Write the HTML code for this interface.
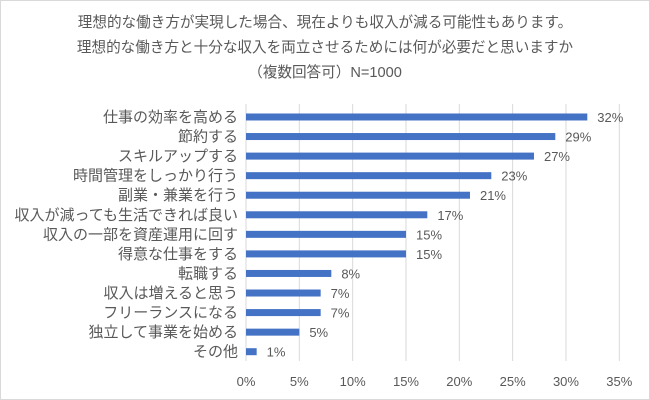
<!DOCTYPE html>
<html><head><meta charset="utf-8"><style>
body{margin:0;background:#fff}
#c{position:relative;width:650px;height:400px;overflow:hidden}
svg text{font-family:"Liberation Sans","Noto Sans CJK JP",sans-serif;fill:#595959}
</style></head><body>
<div id="c">
<svg id="s" width="650" height="400" xmlns="http://www.w3.org/2000/svg">
<rect x="0.5" y="0.5" width="649" height="399" fill="#fff" stroke="#d9d9d9"/>
<text x="325" y="27" text-anchor="middle" font-size="14.6">理想的な働き方が実現した場合、現在よりも収入が減る可能性もあります。</text>
<text x="325" y="52" text-anchor="middle" font-size="14.6">理想的な働き方と十分な収入を両立させるためには何が必要だと思いますか</text>
<text x="325" y="77" text-anchor="middle" font-size="14.6">（複数回答可）N=1000</text>
<g id="grid"></g><g id="bars"></g>
</svg></div>
<script>
const categories=["仕事の効率を高める","節約する","スキルアップする","時間管理をしっかり行う","副業・兼業を行う","収入が減っても生活できれば良い","収入の一部を資産運用に回す","得意な仕事をする","転職する","収入は増えると思う","フリーランスになる","独立して事業を始める","その他"];
const values=[32,29,27,23,21,17,15,15,8,7,7,5,1];
const ticks=[0,5,10,15,20,25,30,35];
const NS="http://www.w3.org/2000/svg";
const x0=246,x1=619.3,xmax=35,yTop=107.2,step=19.56;
const xs=v=>x0+(x1-x0)*v/xmax;
const yc=i=>yTop+step*(i+0.5);
const grid=document.getElementById('grid'),bars=document.getElementById('bars');
function mk(tag,attrs,parent){const e=document.createElementNS(NS,tag);for(const k in attrs)e.setAttribute(k,attrs[k]);parent.appendChild(e);return e;}
ticks.forEach(t=>{
 const l=mk('line',{x1:xs(t),x2:xs(t),y1:104,y2:361,stroke:'#d9d9d9','stroke-width':1},grid);
 
 
 const tx=mk('text',{x:xs(t),y:386,'text-anchor':'middle','font-size':13},grid);
 tx.textContent=t+'%';
 
 
});
categories.forEach((c,i)=>{
 const y=yc(i);
 const r=mk('rect',{x:x0,y:y-3.5,width:xs(values[i])-x0,height:7,fill:'#4472c4'},bars);
 
 
 const lb=mk('text',{x:238,y:y+5,'text-anchor':'end','font-size':15},bars);
 lb.textContent=c;
 
 
 const vl=mk('text',{x:xs(values[i])+10,y:y+5,'font-size':13},bars);
 vl.textContent=values[i]+'%';
 
 
});
</script>
</body></html>
